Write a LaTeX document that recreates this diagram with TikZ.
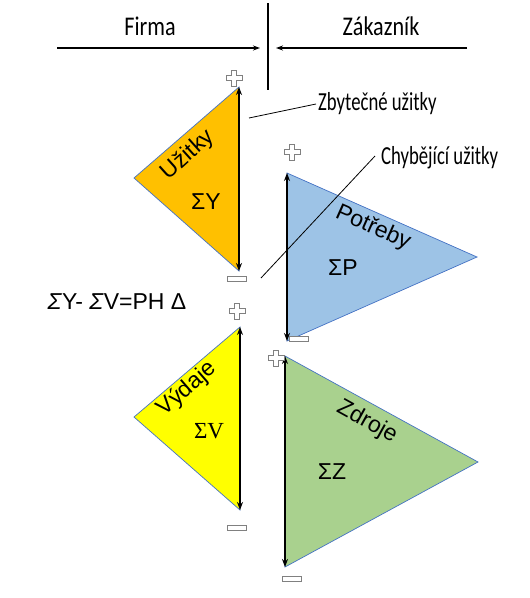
\documentclass[tikz,border=0pt]{standalone}
\usepackage{fontspec}
\setmainfont{Liberation Sans}
\newfontfamily\serifF{Liberation Serif}
\newfontfamily\hand{Carlito}
\usetikzlibrary{arrows.meta}
\definecolor{orangeF}{HTML}{FFC000}
\definecolor{yellowF}{HTML}{FFFF00}
\definecolor{blueF}{HTML}{9DC3E6}
\definecolor{greenF}{HTML}{A9D18E}
\definecolor{edgeC}{HTML}{4472C4}
\definecolor{signC}{HTML}{808080}
\tikzset{
  tri/.style={draw=edgeC, line width=0.7pt},
  axis/.style={{Stealth[length=8pt,width=6pt]}-{Stealth[length=8pt,width=6pt]}, line width=1.6pt},
  harrow/.style={-{Stealth[length=7pt,width=5pt]}, line width=1.3pt},
  big/.style={font=\fontsize{23}{26}\selectfont, inner sep=0pt},
  headtxt/.style={font=\hand\fontsize{27}{30}\selectfont, inner sep=0pt, xscale=0.82},
  handtxt/.style={font=\hand\fontsize{26}{28}\selectfont, inner sep=0pt, xscale=0.72},
  callout/.style={line width=0.8pt},
  plussign/.pic={\draw[signC, fill=white, line width=0.7pt] (-2.6,-8) -- (2.6,-8) -- (2.6,-2.6) -- (8,-2.6) -- (8,2.6) -- (2.6,2.6) -- (2.6,8) -- (-2.6,8) -- (-2.6,2.6) -- (-8,2.6) -- (-8,-2.6) -- (-2.6,-2.6) -- cycle;},
  minussign/.pic={\draw[signC, fill=white, line width=0.7pt] (-9.5,-2.3) rectangle (9.5,2.3);}
}
\begin{document}
\begin{tikzpicture}[x=1pt,y=-1pt]
\useasboundingbox (0,0) rectangle (530,598);
% header
\coordinate (vtop) at (268,3);
\coordinate (vbot) at (268,90);
\draw[line width=1.6pt] (vtop) -- (vbot);
\coordinate (la) at (57,48); \coordinate (lb) at (260,48);
\coordinate (ra) at (467,48); \coordinate (rb) at (276,48);
\draw[harrow] (la) -- (lb);
\draw[harrow] (ra) -- (rb);
\node[headtxt] (firma) at (150,26) {Firma};
\node[headtxt] (zak) at (381,26) {Zákazník};
% orange triangle
\fill[orangeF, tri] (239,87) -- (134,178) -- (239,271) -- cycle;
\coordinate (oT) at (239,87); \coordinate (oB) at (239,271);
\draw[axis] (oT) -- (oB);
\pic at (234,78) {plussign};
\pic at (237,279) {minussign};
\node[big, rotate=42] (uz) at (188,155) {Užitky};
\node[big] (sy) at (206,202) {ΣY};
% blue triangle
\fill[blueF, tri] (287,173) -- (477,257) -- (287,341) -- cycle;
\coordinate (bT) at (287,173); \coordinate (bB) at (287,341);
\draw[axis] (bT) -- (bB);
\pic at (292,152) {plussign};
\pic at (299,339) {minussign};
\node[big, rotate=-24] (po) at (373,228) {Potřeby};
\node[big] (sp) at (343,268) {ΣP};
% yellow triangle
\fill[yellowF, tri] (240,327) -- (134,417) -- (240,510) -- cycle;
\coordinate (yT) at (240,327); \coordinate (yB) at (240,510);
\draw[axis] (yT) -- (yB);
\pic at (237,311) {plussign};
\pic at (237,528) {minussign};
\node[big, rotate=41] (vy) at (187,389) {Výdaje};
\node[big, font=\serifF\fontsize{23}{26}\selectfont] (sv) at (209,431) {ΣV};
% green triangle
\fill[greenF, tri] (285,356) -- (478,462) -- (285,567) -- cycle;
\coordinate (gT) at (285,356); \coordinate (gB) at (285,567);
\draw[axis] (gT) -- (gB);
\pic at (276,358) {plussign};
\pic at (292,579) {minussign};
\node[big, rotate=-29] (zd) at (367,422) {Zdroje};
\node[big] (sz) at (332,472) {ΣZ};
% formula
\node[big] (form) at (117,302) {\textit{Σ}Y- \textit{Σ}V=PH Δ};
% callouts
\node[handtxt, anchor=west] (zb) at (318,104) {Zbytečné užitky};
\coordinate (zbEnd) at (249,118);
\draw[callout] (zb.west) ++(-2,0) -- (zbEnd);
\node[handtxt, anchor=west] (ch) at (381,158) {Chybějící užitky};
\coordinate (chEnd) at (261,278);
\draw[callout] (ch.west) ++(-6,-2) -- (chEnd);
\end{tikzpicture}
\end{document}
